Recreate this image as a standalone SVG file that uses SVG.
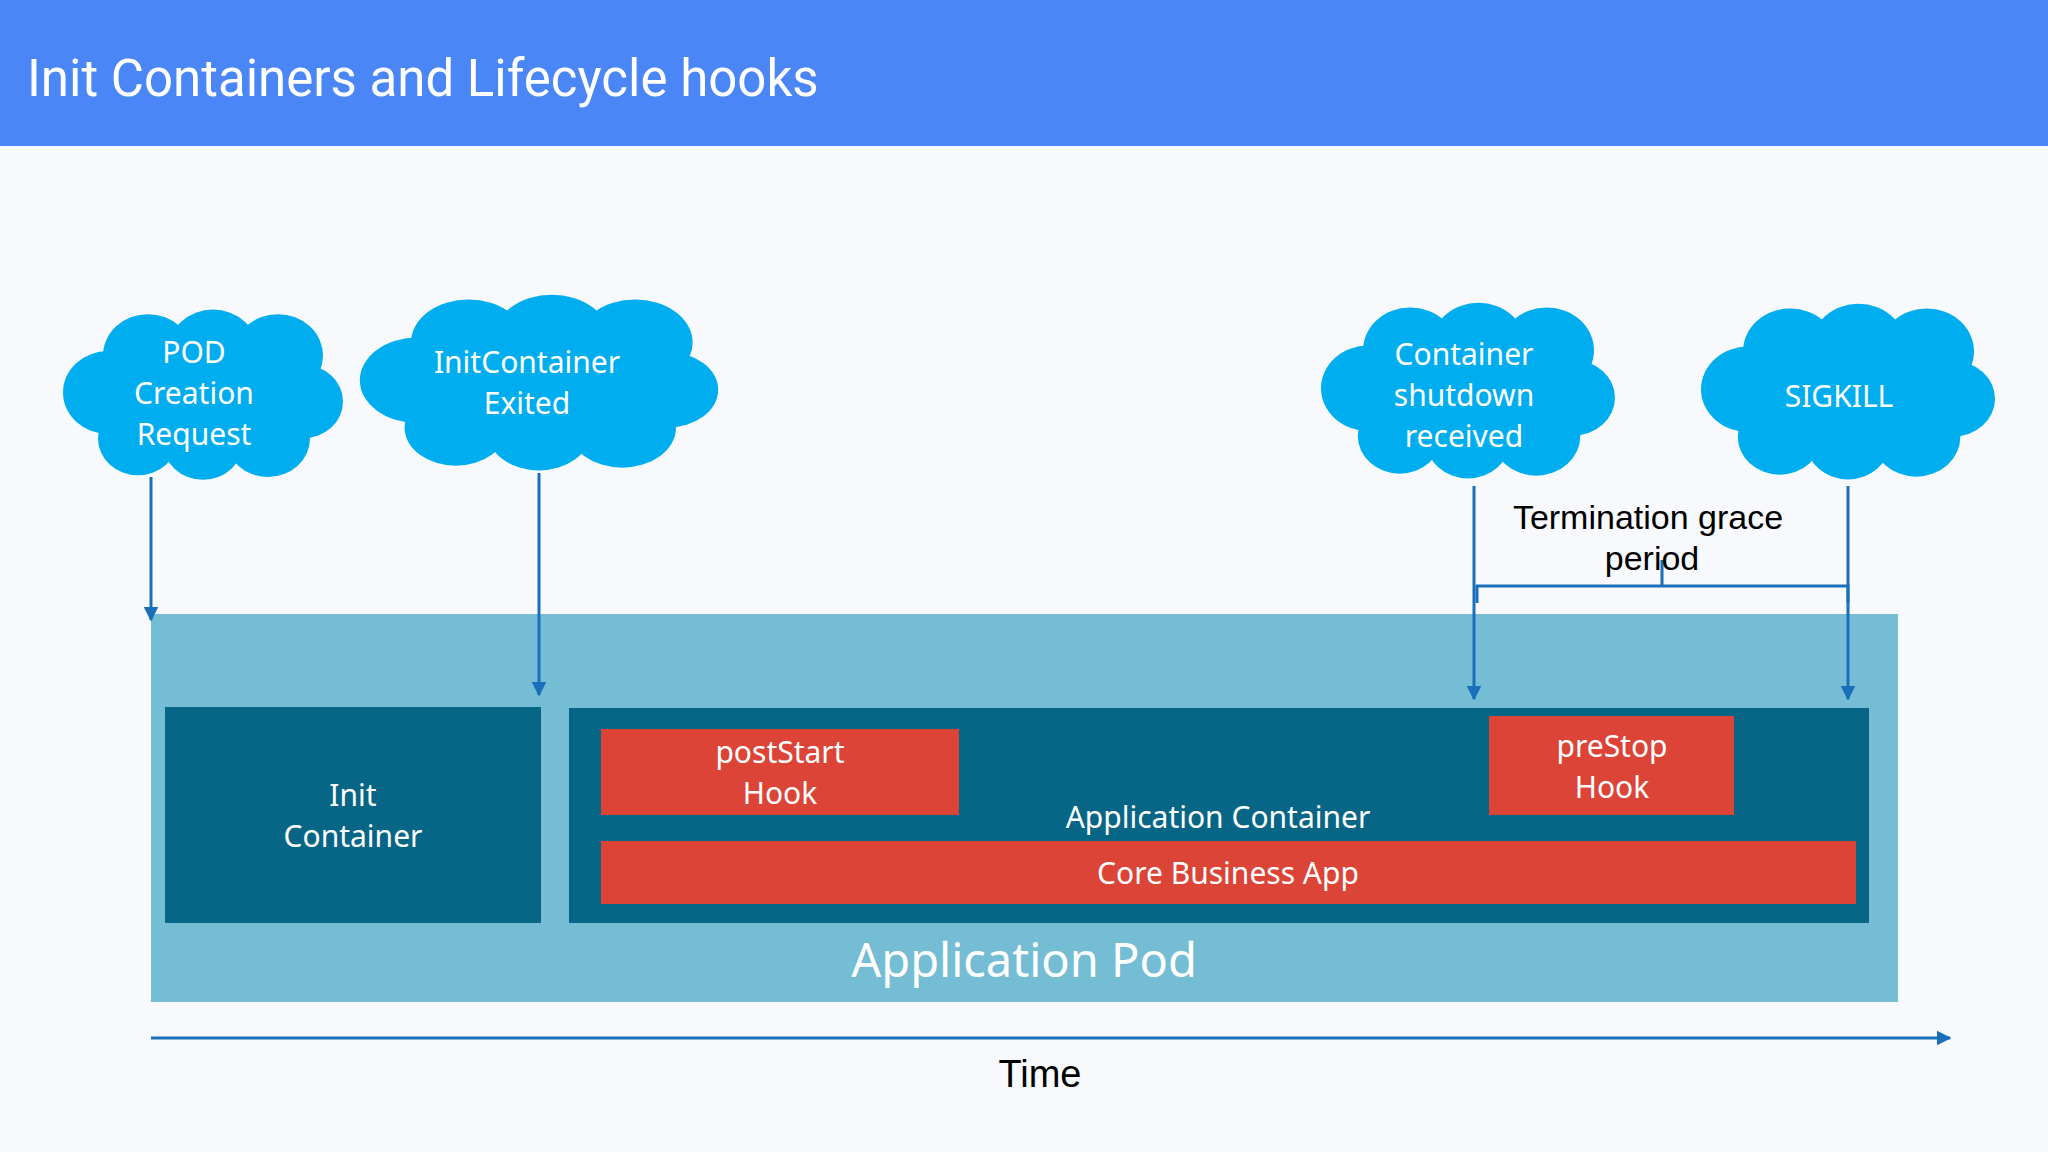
<svg xmlns="http://www.w3.org/2000/svg" width="2048" height="1152" viewBox="0 0 2048 1152">
<style>
.ct{font-family:"Noto Sans","Open Sans",sans-serif;fill:#fff;font-size:30px;text-anchor:middle}
.bt{font-family:"Liberation Sans",Arial,sans-serif;fill:#000;text-anchor:middle}
.ln{stroke:#1a6fba;stroke-width:3;fill:none}
.red{fill:#db4437}
</style>
<defs>
<g id="cloud" fill="#00aeef">
<ellipse cx="0" cy="0" rx="105" ry="65"/>
<circle cx="-95" cy="-5" r="45"/>
<circle cx="-55" cy="-45" r="45"/>
<circle cx="10" cy="-50" r="45"/>
<circle cx="75" cy="-45" r="45"/>
<circle cx="100" cy="5" r="40"/>
<circle cx="65" cy="45" r="42"/>
<circle cx="0" cy="50" r="40"/>
<circle cx="-65" cy="45" r="40"/>
</g>
<marker id="ah" viewBox="0 0 10 10" refX="9" refY="5" markerWidth="5" markerHeight="5" orient="auto"><path d="M0,0L10,5L0,10z" fill="#1a6fba"/></marker>
</defs>
<rect width="2048" height="1152" fill="#f8f9fc"/>
<g id="header"><rect width="2048" height="146" fill="#4a86f5"/>
<text x="27" y="96" font-family="Roboto,'Noto Sans',sans-serif" font-size="51" fill="#fff">Init Containers and Lifecycle hooks</text></g>
<g id="pod"><rect x="151" y="614" width="1747" height="388" fill="#74bdd4"/>
<text x="1024" y="977" class="ct" style="font-size:47px">Application Pod</text></g>
<g id="init"><rect x="165" y="707" width="376" height="216" fill="#076685"/>
<text x="353" y="806" class="ct">Init</text><text x="353" y="847" class="ct">Container</text></g>
<g id="app"><rect x="569" y="708" width="1300" height="215" fill="#076685"/>
<text x="1218" y="828" class="ct">Application Container</text></g>
<g id="poststart"><rect x="601" y="729" width="358" height="86" class="red"/>
<text x="780" y="763" class="ct">postStart</text><text x="780" y="804" class="ct">Hook</text></g>
<g id="prestop"><rect x="1489" y="716" width="245" height="99" class="red"/>
<text x="1612" y="757" class="ct">preStop</text><text x="1612" y="798" class="ct">Hook</text></g>
<g id="core"><rect x="601" y="841" width="1255" height="63" class="red"/>
<text x="1228" y="884" class="ct">Core Business App</text></g>
<g id="c1"><use href="#cloud" transform="translate(203,397) scale(1.0,0.92)"/>
<text x="194" y="363" class="ct">POD</text><text x="194" y="404" class="ct">Creation</text><text x="194" y="445" class="ct">Request</text></g>
<g id="c2"><use href="#cloud" transform="translate(539,385) scale(1.28,0.95)"/>
<text x="527" y="373" class="ct">InitContainer</text><text x="527" y="414" class="ct">Exited</text></g>
<g id="c3"><use href="#cloud" transform="translate(1468,393) scale(1.05,0.95)"/>
<text x="1464" y="365" class="ct">Container</text><text x="1464" y="406" class="ct">shutdown</text><text x="1464" y="447" class="ct">received</text></g>
<g id="c4"><use href="#cloud" transform="translate(1848,394) scale(1.05,0.95)"/>
<text x="1839" y="407" class="ct">SIGKILL</text></g>
<g id="connectors">
<line x1="151" y1="477" x2="151" y2="620" class="ln" marker-end="url(#ah)"/>
<line x1="539" y1="473" x2="539" y2="695" class="ln" marker-end="url(#ah)"/>
<line x1="1474" y1="486" x2="1474" y2="699" class="ln" marker-end="url(#ah)"/>
<line x1="1848" y1="486" x2="1848" y2="699" class="ln" marker-end="url(#ah)"/>
<path d="M1477,603V586H1662V560M1662,586H1848V603" class="ln"/>
<line x1="151" y1="1038" x2="1950" y2="1038" class="ln" marker-end="url(#ah)"/>
</g>
<text x="1648" y="529" class="bt" font-size="34">Termination grace</text>
<text x="1652" y="570" class="bt" font-size="34">period</text>
<text x="1040" y="1087" class="bt" font-size="38">Time</text>
</svg>
